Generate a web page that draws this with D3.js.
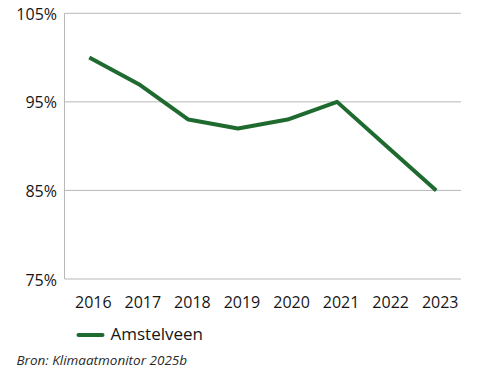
<!DOCTYPE html>
<html><head><meta charset="utf-8">
<script src="https://cdn.jsdelivr.net/npm/d3@7"></script>
<style>
html,body{margin:0;padding:0;background:#fff;}
svg{display:block;font-family:"Open Sans",sans-serif;}
</style></head><body>
<svg id="chart" width="490" height="381"></svg>
<script>
const years = ["2016","2017","2018","2019","2020","2021","2022","2023"];
const amstelveen = [100, 97, 93, 92, 93, 95, 90, 85];
const yTicks = [75, 85, 95, 105];
const seriesName = "Amstelveen";
const source = "Bron: Klimaatmonitor 2025b";

(function () {
const svg = d3.select("#chart");
const pLeft = 64.5, pRight = 461, pTop = 13.3, pBottom = 279;
const x = d3.scaleBand().domain(years).range([pLeft, pRight]);
const y = d3.scaleLinear().domain([75, 105]).range([pBottom, pTop]);
const green = "#1f6b2f";
const ink = "#161616";

// gridlines
svg.append("g").selectAll("line").data(yTicks).join("line")
  .attr("x1", pLeft).attr("x2", pRight)
  .attr("y1", d => y(d)).attr("y2", d => y(d))
  .attr("stroke", "#b8b8b8").attr("stroke-width", 1);
// vertical axis line
svg.append("line").attr("x1", pLeft).attr("x2", pLeft).attr("y1", pTop).attr("y2", pBottom)
  .attr("stroke", "#b8b8b8").attr("stroke-width", 1);

// y labels
svg.append("g").selectAll("text").data(yTicks).join("text")
  .attr("x", 57).attr("y", d => y(d) + 6.5)
  .attr("text-anchor", "end").attr("font-size", 16).attr("fill", ink)
  .text(d => d + "%");

// x labels
svg.append("g").selectAll("text").data(years).join("text")
  .attr("x", d => x(d) + x.bandwidth() / 2 + 4).attr("y", 307.5)
  .attr("text-anchor", "middle").attr("font-size", 16).attr("fill", ink)
  .text(d => d);

// line
const line = d3.line().x((d, i) => x(years[i]) + x.bandwidth() / 2).y(d => y(d));
svg.append("path").datum(amstelveen).attr("d", line)
  .attr("fill", "none").attr("stroke", green).attr("stroke-width", 4)
  .attr("stroke-linejoin", "round");

// legend
svg.append("line").attr("x1", 78.5).attr("x2", 102.5).attr("y1", 335).attr("y2", 335)
  .attr("stroke", green).attr("stroke-width", 4).attr("stroke-linecap", "round");
svg.append("text").attr("x", 110.5).attr("y", 340).attr("font-size", 17).attr("fill", ink)
  .text(seriesName);

// source
svg.append("text").attr("x", 16.5).attr("y", 365).attr("font-size", 13.5).attr("font-style", "italic")
  .attr("fill", "#2a2a2a").text(source);
})();
</script>
</body></html>
